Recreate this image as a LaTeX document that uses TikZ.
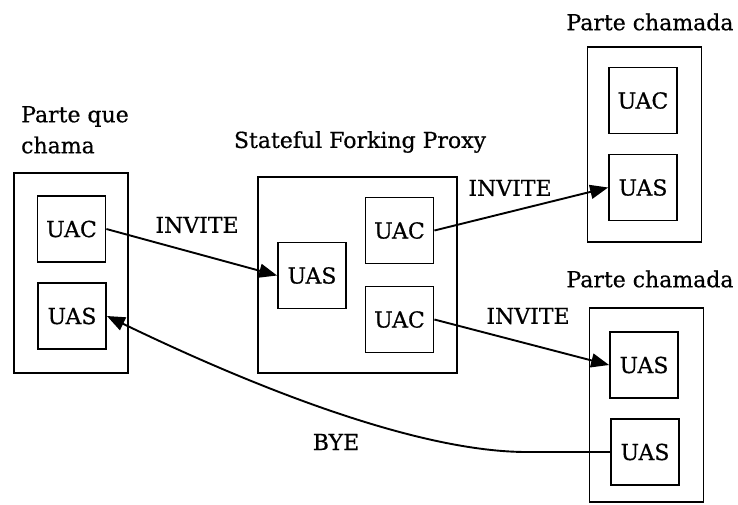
\documentclass[tikz,border=0pt]{standalone}
\usepackage{fontspec}
\setmainfont{DejaVu Serif}[UprightFeatures={FakeBold=0.6}]
\usetikzlibrary{positioning, arrows.meta}

\begin{document}
\begin{tikzpicture}[x=1pt, y=-1pt, >={Triangle[length=18pt,width=14pt]},
    party/.style={draw, line width=1.8pt, minimum width=114pt, inner sep=0pt},
    agent/.style={draw, line width=1.8pt, minimum width=68pt, minimum height=66pt, inner sep=0pt, font=\fontsize{22}{26}\selectfont},
    lbl/.style={font=\fontsize{22}{26}\selectfont},
    msg/.style={->, line width=1.9pt}]
    \useasboundingbox (0,0) rectangle (738,504);

    % Calling party
    \node[party, minimum height=200pt] (caller) at (71,273) {};
    \node[agent] (callerUAC) at (71.5,229) {UAC};
    \node[agent] (callerUAS) at (72,316) {UAS};
    \node[lbl, align=left, anchor=north west, inner sep=0pt] (callerLbl) at (21,106) {Parte que\\[5pt]chama};

    % Stateful proxy
    \node[party, minimum width=199pt, minimum height=196pt] (proxy) at (357.5,275) {};
    \node[agent] (proxyUAS) at (312,275.5) {UAS};
    \node[agent] (proxyUAC1) at (399.5,230.5) {UAC};
    \node[agent] (proxyUAC2) at (399.5,319.5) {UAC};
    \node[lbl] (proxyLbl) at (360,142) {Stateful Forking Proxy};

    % Called party (top)
    \node[party, minimum height=195pt] (calledA) at (644.5,144.5) {};
    \node[agent] (calledAUAC) at (643,100.5) {UAC};
    \node[agent] (calledAUAS) at (643,187.5) {UAS};
    \node[lbl] (calledALbl) at (650,22) {Parte chamada};

    % Called party (bottom)
    \node[party, minimum height=194pt] (calledB) at (646.5,405) {};
    \node[agent] (calledBUAS1) at (644,365) {UAS};
    \node[agent] (calledBUAS2) at (645,452) {UAS};
    \node[lbl] (calledBLbl) at (650,279) {Parte chamada};

    % Messages
    \draw[msg] (callerUAC.east) -- (proxyUAS.west);
    \node[lbl] (inviteA) at (197,225) {INVITE};
    \draw[msg] (proxyUAC1.east) -- (calledAUAS.west);
    \node[lbl] (inviteB) at (510,188) {INVITE};
    \draw[msg] (proxyUAC2.east) -- (calledBUAS1.west);
    \node[lbl] (inviteC) at (528,316) {INVITE};
    \coordinate (byeBend) at (527,452);
    \draw[msg] (calledBUAS2.west) -- (byeBend) .. controls (420,452) and (260,390) .. (callerUAS.east);
    \node[lbl] (byeLbl) at (336,442) {BYE};
\end{tikzpicture}
\end{document}
